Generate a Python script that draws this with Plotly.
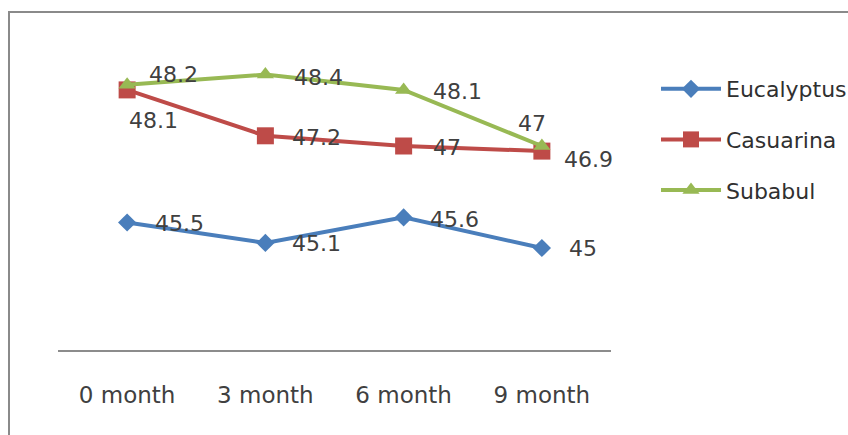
import plotly.graph_objects as go

categories = ["0 month", "3 month", "6 month", "9 month"]
eucalyptus = [45.5, 45.1, 45.6, 45.0]
casuarina = [48.1, 47.2, 47.0, 46.9]
subabul = [48.2, 48.4, 48.1, 47.0]
series_names = ["Eucalyptus", "Casuarina", "Subabul"]

colors = ["#4A7EBB", "#BE4B48", "#98B954"]
symbols = ["diamond", "square", "triangle-up"]
sizes = [14, 17, 15]
values = [eucalyptus, casuarina, subabul]

# label offsets in px (style only): (xshift, yshift, xanchor)
offsets = [
    [(26, -1, "left"), (25, -1, "left"), (24, -2, "left"), (25, 0, "left")],
    [(0, -31, "left"), (25, -2, "left"), (27, -1, "left"), (20, -8, "left")],
    [(20, 10, "left"), (27, -3, "left"), (27, -2, "left"), (-10, 23, "center")],
]

fig = go.Figure()
for i, (name, vals) in enumerate(zip(series_names, values)):
    fig.add_trace(go.Scatter(
        x=categories, y=vals, name=name, mode="lines+markers",
        line=dict(color=colors[i], width=4),
        marker=dict(symbol=symbols[i], size=sizes[i], color=colors[i]),
        legendgroup=name,
    ))

annotations = []
for i, vals in enumerate(values):
    for j, v in enumerate(vals):
        xs, ys, xa = offsets[i][j]
        annotations.append(dict(
            x=categories[j], y=v, xref="x", yref="y", text=f"{v:g}",
            showarrow=False, xanchor=xa, yanchor="middle",
            xshift=xs, yshift=ys,
            font=dict(family="DejaVu Sans", size=22, color="#404040"),
        ))

L, R, T, B = 58, 237, 44, 85
W, H = 848, 435
pw, ph = W - L - R, H - T - B

def px_x(x):
    return (x - L) / pw

def px_y(y):
    return (H - B - y) / ph

fig.update_layout(
    width=W, height=H,
    margin=dict(l=L, r=R, t=T, b=B, pad=0, autoexpand=False),
    paper_bgcolor="white", plot_bgcolor="white",
    showlegend=True,
    legend=dict(
        x=px_x(656), xanchor="left", y=px_y(68), yanchor="top",
        font=dict(family="DejaVu Sans", size=22, color="#303030"),
        tracegroupgap=19, itemwidth=60,
        bgcolor="rgba(0,0,0,0)",
    ),
    xaxis=dict(
        type="category", range=[-0.5, 3.5],
        showline=True, linecolor="#8C8C8C", linewidth=2,
        showgrid=False, ticks="", zeroline=False,
        tickfont=dict(family="DejaVu Sans", size=23, color="#404040"),
        ticklabelstandoff=23,
    ),
    yaxis=dict(
        range=[43, 49], visible=False, showgrid=False, zeroline=False,
    ),
    annotations=annotations,
    shapes=[dict(
        type="rect", xref="paper", yref="paper",
        x0=px_x(9), x1=px_x(870), y0=px_y(460), y1=px_y(12),
        line=dict(color="#8A8A8A", width=2), fillcolor="rgba(0,0,0,0)",
        layer="below",
    )],
)

fig.write_html("out.html")
